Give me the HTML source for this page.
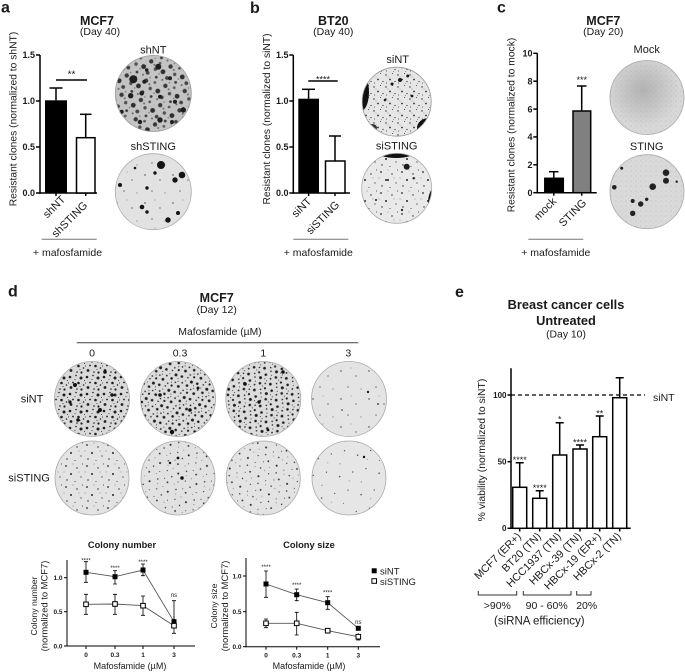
<!DOCTYPE html>
<html><head><meta charset="utf-8"><style>
html,body{margin:0;padding:0;background:#fff;}
svg{display:block;font-family:"Liberation Sans",Arial,sans-serif;}
</style></head><body>
<svg width="685" height="672" viewBox="0 0 685 672" xmlns="http://www.w3.org/2000/svg">
<defs>
<pattern id="pA" width="17" height="17" patternUnits="userSpaceOnUse">
<g fill="#1e1e1e"><circle cx="2" cy="3" r="1.3"/><circle cx="8" cy="1.5" r="0.8"/><circle cx="13" cy="4" r="1.5"/><circle cx="5" cy="8.5" r="0.9"/><circle cx="10.5" cy="9" r="1.3"/><circle cx="15.5" cy="11" r="0.8"/><circle cx="3" cy="13.5" r="1.4"/><circle cx="9" cy="15" r="0.8"/><circle cx="13.5" cy="15.5" r="1.1"/><circle cx="7" cy="5.5" r="0.5"/><circle cx="12" cy="12.5" r="0.5"/><circle cx="16.5" cy="6.5" r="0.5"/><circle cx="0.5" cy="9" r="0.5"/></g>
</pattern>
<pattern id="pB" width="21" height="21" patternUnits="userSpaceOnUse">
<g fill="#262626"><circle cx="3" cy="4" r="0.9"/><circle cx="14" cy="6" r="0.7"/><circle cx="8" cy="12" r="1"/><circle cx="18" cy="15" r="0.6"/><circle cx="4" cy="18" r="0.7"/><circle cx="12" cy="19.5" r="0.5"/><circle cx="19.5" cy="2" r="0.5"/><circle cx="10" cy="2" r="0.4"/><circle cx="16" cy="10" r="0.4"/><circle cx="1" cy="10" r="0.4"/></g>
</pattern>
<pattern id="pC" width="28" height="28" patternUnits="userSpaceOnUse">
<g fill="#333"><circle cx="5" cy="7" r="0.7"/><circle cx="20" cy="12" r="0.6"/><circle cx="12" cy="23" r="0.6"/><circle cx="25" cy="25" r="0.45"/><circle cx="15" cy="4" r="0.4"/></g>
</pattern>
<pattern id="pD" width="20" height="20" patternUnits="userSpaceOnUse">
<circle cx="3" cy="3" r="2.2" fill="#3a3a3a"/><circle cx="12" cy="2.5" r="1.4" fill="#5a5a5a"/><circle cx="17" cy="10" r="2.4" fill="#2e2e2e"/><circle cx="9" cy="9.5" r="1.7" fill="#505050"/><circle cx="2.5" cy="15" r="1.9" fill="#444"/><circle cx="12" cy="17" r="1.4" fill="#3a3a3a"/><circle cx="18.5" cy="18" r="1" fill="#666"/><circle cx="7" cy="5.5" r="1" fill="#6a6a6a"/><circle cx="14" cy="13" r="0.8" fill="#777"/><circle cx="6" cy="19" r="0.8" fill="#777"/>
</pattern>
<pattern id="pE" width="12" height="12" patternUnits="userSpaceOnUse">
<g fill="#2a2a2a"><circle cx="2" cy="3" r="0.7"/><circle cx="8.5" cy="1.5" r="0.5"/><circle cx="6" cy="7.5" r="0.9"/><circle cx="11" cy="9.5" r="0.6"/><circle cx="2.5" cy="11" r="0.5"/><circle cx="9.5" cy="11.8" r="0.4"/><circle cx="4" cy="5" r="0.35"/></g>
</pattern>
<pattern id="pN" width="5" height="5" patternUnits="userSpaceOnUse">
<circle cx="1" cy="1" r="0.5" fill="#adadad"/><circle cx="3.5" cy="3" r="0.4" fill="#bdbdbd"/>
</pattern>
<radialGradient id="gMock" cx="0.45" cy="0.4" r="0.5">
<stop offset="0" stop-color="#a8a8a8" stop-opacity="0.8"/><stop offset="1" stop-color="#a8a8a8" stop-opacity="0"/>
</radialGradient>
<clipPath id="cb1"><circle cx="396.7" cy="101.7" r="34.5"/></clipPath>
<clipPath id="cb2"><circle cx="396.7" cy="188.3" r="35"/></clipPath>
</defs>
<rect width="685" height="672" fill="#fff"/>

<g fill="#1a1a1a">
<!-- ========== Panel a ========== -->
<text x="1" y="12.5" font-size="16" font-weight="bold">a</text>
<text x="97" y="25" font-size="12.5" font-weight="bold" text-anchor="middle">MCF7</text>
<text x="100" y="35" font-size="10.5" text-anchor="middle">(Day 40)</text>
<g stroke="#000" stroke-width="1.5">
<line x1="40" y1="55" x2="40" y2="193.7"/>
<line x1="39.3" y1="193" x2="97" y2="193"/>
<line x1="36" y1="55" x2="40" y2="55"/><line x1="36" y1="101" x2="40" y2="101"/><line x1="36" y1="147" x2="40" y2="147"/><line x1="36" y1="193" x2="40" y2="193"/>
<line x1="56" y1="193" x2="56" y2="196"/><line x1="85.7" y1="193" x2="85.7" y2="196"/>
</g>
<g font-size="9" font-weight="bold" text-anchor="end">
<text x="35" y="58.2">1.5</text><text x="35" y="104.2">1.0</text><text x="35" y="150.2">0.5</text><text x="35" y="196.2">0.0</text>
</g>
<rect x="45" y="100.3" width="22" height="92.7" fill="#000"/>
<g stroke="#000" stroke-width="1.5" fill="none">
<line x1="56" y1="100.3" x2="56" y2="88"/><line x1="49.5" y1="88" x2="62.5" y2="88"/>
<rect x="76.5" y="137.7" width="18.5" height="55.3" fill="#fff"/>
<line x1="85.7" y1="137.7" x2="85.7" y2="114.3"/><line x1="80" y1="114.3" x2="91.5" y2="114.3"/>
<line x1="56" y1="80" x2="87" y2="80"/>
</g>
<text x="71.5" y="77.5" font-size="10" text-anchor="middle">**</text>
<text transform="translate(16.5,119) rotate(-90)" font-size="10.3" text-anchor="middle">Resistant clones (normalized to shNT)</text>
<text transform="translate(66,200) rotate(-45)" font-size="11" text-anchor="end">shNT</text>
<text transform="translate(88,206) rotate(-45)" font-size="11" text-anchor="end">shSTING</text>
<line x1="41.7" y1="239.3" x2="96.7" y2="239.3" stroke="#777" stroke-width="1"/>
<text x="67.5" y="256" font-size="10.5" text-anchor="middle">+ mafosfamide</text>
<text x="153.3" y="53.5" font-size="11" text-anchor="middle">shNT</text>
<text x="153.3" y="150" font-size="11" text-anchor="middle">shSTING</text>
</g>
<!-- plate a shNT -->
<circle cx="153.3" cy="93.5" r="38" fill="#c4c4c4"/>
<circle cx="153.3" cy="93.5" r="38" fill="url(#pN)"/>
<circle cx="153.3" cy="93.5" r="38" fill="url(#pD)" transform="rotate(15 153.3 93.5)"/>
<g fill="#1e1e1e"><circle cx="133.3" cy="79.3" r="4"/><circle cx="158.3" cy="66.7" r="3"/><circle cx="170" cy="78.3" r="2"/><circle cx="144.3" cy="81.7" r="2"/><circle cx="130.7" cy="95.7" r="2.7"/><circle cx="183.3" cy="110" r="2.7"/><circle cx="160" cy="120" r="2.7"/><circle cx="141.7" cy="93.3" r="2.3"/><circle cx="160" cy="96.7" r="2"/><circle cx="121.7" cy="111.7" r="2"/><circle cx="175" cy="101.7" r="2"/><circle cx="146.7" cy="70" r="1.8"/><circle cx="140" cy="122" r="2.2"/><circle cx="172" cy="122" r="2"/></g>
<circle cx="153.3" cy="93.5" r="38" fill="none" stroke="#999" stroke-width="0.8"/>
<!-- plate a shSTING -->
<circle cx="153.3" cy="191.7" r="38" fill="#e2e2e2"/>
<circle cx="153.3" cy="191.7" r="38" fill="url(#pC)"/>
<g fill="#141414"><circle cx="161" cy="165" r="4"/><circle cx="182" cy="175" r="3.3"/><circle cx="175" cy="180" r="2.7"/><circle cx="120" cy="185" r="2"/><circle cx="147" cy="188" r="1.7"/><circle cx="142" cy="207" r="2.3"/><circle cx="147" cy="212" r="1.7"/><circle cx="168" cy="220" r="2.7"/><circle cx="178" cy="213" r="2"/><circle cx="155" cy="173" r="1.7"/><circle cx="135" cy="168" r="1.3"/></g>
<circle cx="153.3" cy="191.7" r="38" fill="none" stroke="#aaa" stroke-width="0.8"/>

<g fill="#1a1a1a">
<!-- ========== Panel b ========== -->
<text x="250" y="13" font-size="16" font-weight="bold">b</text>
<text x="333.3" y="25" font-size="12.5" font-weight="bold" text-anchor="middle">BT20</text>
<text x="333.3" y="35" font-size="10.5" text-anchor="middle">(Day 40)</text>
<g stroke="#000" stroke-width="1.5">
<line x1="293.3" y1="55" x2="293.3" y2="193.7"/>
<line x1="292.6" y1="193" x2="350" y2="193"/>
<line x1="289.3" y1="55" x2="293.3" y2="55"/><line x1="289.3" y1="101" x2="293.3" y2="101"/><line x1="289.3" y1="147" x2="293.3" y2="147"/><line x1="289.3" y1="193" x2="293.3" y2="193"/>
<line x1="308.6" y1="193" x2="308.6" y2="196"/><line x1="335" y1="193" x2="335" y2="196"/>
</g>
<g font-size="9" font-weight="bold" text-anchor="end">
<text x="288.5" y="58.2">1.5</text><text x="288.5" y="104.2">1.0</text><text x="288.5" y="150.2">0.5</text><text x="288.5" y="196.2">0.0</text>
</g>
<rect x="298.3" y="98.7" width="20.7" height="94.3" fill="#000"/>
<g stroke="#000" stroke-width="1.5" fill="none">
<line x1="308.6" y1="98.7" x2="308.6" y2="89.3"/><line x1="302" y1="89.3" x2="315" y2="89.3"/>
<rect x="325.5" y="161" width="19.5" height="32" fill="#fff"/>
<line x1="335" y1="161" x2="335" y2="136"/><line x1="329" y1="136" x2="341" y2="136"/>
<line x1="308.3" y1="81" x2="337.7" y2="81"/>
</g>
<text x="323" y="82.3" font-size="9" text-anchor="middle">****</text>
<text transform="translate(270,119) rotate(-90)" font-size="10.3" text-anchor="middle">Resistant clones (normalized to siNT)</text>
<text transform="translate(312,202) rotate(-45)" font-size="11" text-anchor="end">siNT</text>
<text transform="translate(340,205.5) rotate(-45)" font-size="11" text-anchor="end">siSTING</text>
<line x1="293.3" y1="239.3" x2="348.3" y2="239.3" stroke="#777" stroke-width="1"/>
<text x="318.3" y="256" font-size="10.5" text-anchor="middle">+ mafosfamide</text>
<text x="397.7" y="63" font-size="11" text-anchor="middle">siNT</text>
<text x="396.7" y="149.5" font-size="11" text-anchor="middle">siSTING</text>
</g>
<!-- plate b siNT -->
<g clip-path="url(#cb1)">
<circle cx="396.7" cy="101.7" r="34.5" fill="#e6e6e6"/>
<circle cx="396.7" cy="101.7" r="34.5" fill="url(#pE)"/>
<ellipse cx="361" cy="92" rx="8" ry="19" fill="#111"/>
<ellipse cx="429" cy="128" rx="12" ry="10" fill="#111"/>
<ellipse cx="372" cy="128" rx="5" ry="4" fill="#333"/>
<g fill="#1a1a1a"><circle cx="400" cy="80" r="2"/><circle cx="407.7" cy="76" r="1.5"/><circle cx="392" cy="84" r="1.5"/><circle cx="385" cy="100" r="1.3"/><circle cx="412" cy="96" r="1.4"/></g>
</g>
<circle cx="396.7" cy="101.7" r="34.5" fill="none" stroke="#999" stroke-width="0.8"/>
<!-- plate b siSTING -->
<g clip-path="url(#cb2)">
<circle cx="396.7" cy="188.3" r="35" fill="#e9e9e9"/>
<circle cx="396.7" cy="188.3" r="35" fill="url(#pB)"/>
<ellipse cx="396" cy="151" rx="20" ry="7" fill="#111"/>
<ellipse cx="434" cy="203" rx="6" ry="14" fill="#111"/>
<g fill="#1a1a1a"><circle cx="406.7" cy="166.7" r="3"/><circle cx="413.7" cy="178.3" r="1.2"/><circle cx="388" cy="180" r="1"/><circle cx="376" cy="200" r="1"/><circle cx="402" cy="210" r="1.1"/></g>
</g>
<circle cx="396.7" cy="188.3" r="35" fill="none" stroke="#aaa" stroke-width="0.8"/>

<g fill="#1a1a1a">
<!-- ========== Panel c ========== -->
<text x="497" y="12.5" font-size="16" font-weight="bold">c</text>
<text x="603.3" y="25" font-size="12.5" font-weight="bold" text-anchor="middle">MCF7</text>
<text x="603.3" y="35" font-size="10.5" text-anchor="middle">(Day 20)</text>
<g stroke="#000" stroke-width="1.5">
<line x1="537.3" y1="53.3" x2="537.3" y2="193.4"/>
<line x1="536.6" y1="192.7" x2="596.7" y2="192.7"/>
<line x1="533.3" y1="53.3" x2="537.3" y2="53.3"/><line x1="533.3" y1="81.2" x2="537.3" y2="81.2"/><line x1="533.3" y1="109.1" x2="537.3" y2="109.1"/><line x1="533.3" y1="136.9" x2="537.3" y2="136.9"/><line x1="533.3" y1="164.8" x2="537.3" y2="164.8"/><line x1="533.3" y1="192.7" x2="537.3" y2="192.7"/>
<line x1="553.8" y1="192.7" x2="553.8" y2="195.7"/><line x1="581.7" y1="192.7" x2="581.7" y2="195.7"/>
</g>
<g font-size="9" font-weight="bold" text-anchor="end">
<text x="532.5" y="56.5">10</text><text x="532.5" y="84.4">8</text><text x="532.5" y="112.3">6</text><text x="532.5" y="140.1">4</text><text x="532.5" y="168">2</text><text x="532.5" y="195.9">0</text>
</g>
<g stroke="#000" stroke-width="1.5">
<rect x="544.8" y="178.3" width="18.5" height="14.4" fill="#000"/>
<line x1="553.8" y1="178.3" x2="553.8" y2="171.7"/><line x1="549" y1="171.7" x2="558.5" y2="171.7"/>
<rect x="573" y="111" width="17.7" height="81.7" fill="#808080"/>
<line x1="581.7" y1="111" x2="581.7" y2="86"/><line x1="577" y1="86" x2="586.5" y2="86"/>
</g>
<text x="581.7" y="83" font-size="9" text-anchor="middle">***</text>
<text transform="translate(514.5,125) rotate(-90)" font-size="10.3" text-anchor="middle">Resistant clones (normalized to mock)</text>
<text transform="translate(557,202) rotate(-45)" font-size="11" text-anchor="end">mock</text>
<text transform="translate(587,203.5) rotate(-45)" font-size="11" text-anchor="end">STING</text>
<line x1="528.3" y1="239.3" x2="583.3" y2="239.3" stroke="#777" stroke-width="1"/>
<text x="555.8" y="256" font-size="10.5" text-anchor="middle">+ mafosfamide</text>
<text x="646.7" y="53" font-size="11" text-anchor="middle">Mock</text>
<text x="646.7" y="150" font-size="11" text-anchor="middle">STING</text>
</g>
<!-- plate c Mock -->
<circle cx="647" cy="97.5" r="37" fill="#d8d8d8"/>
<circle cx="647" cy="97.5" r="37" fill="url(#pN)"/>
<circle cx="647" cy="97.5" r="37" fill="url(#gMock)"/>
<circle cx="647" cy="97.5" r="37" fill="none" stroke="#aaa" stroke-width="0.8"/>
<!-- plate c STING -->
<circle cx="647" cy="191.7" r="37" fill="#dadada"/>
<circle cx="647" cy="191.7" r="37" fill="url(#pN)"/>
<g fill="#222"><circle cx="666" cy="172.7" r="3.3"/><circle cx="666" cy="180.7" r="3"/><circle cx="652.7" cy="186.7" r="3.3"/><circle cx="614.3" cy="187.3" r="2.3"/><circle cx="640.7" cy="204" r="2.7"/><circle cx="632.7" cy="213.3" r="2.7"/><circle cx="632.7" cy="201" r="2"/><circle cx="646.7" cy="199.3" r="1.7"/><circle cx="621.7" cy="168.3" r="1.5"/><circle cx="676.7" cy="181.7" r="1.2"/></g>
<circle cx="647" cy="191.7" r="37" fill="none" stroke="#aaa" stroke-width="0.8"/>

<g fill="#1a1a1a">
<!-- ========== Panel d ========== -->
<text x="8" y="296.7" font-size="16" font-weight="bold">d</text>
<text x="216.7" y="302" font-size="12.5" font-weight="bold" text-anchor="middle">MCF7</text>
<text x="216.7" y="313" font-size="10.5" text-anchor="middle">(Day 12)</text>
<text x="220" y="335" font-size="10.3" text-anchor="middle">Mafosfamide (µM)</text>
<line x1="76.7" y1="342.7" x2="358.3" y2="342.7" stroke="#444" stroke-width="1"/>
<g font-size="10.5" text-anchor="middle">
<text x="92" y="356.5">0</text><text x="180" y="356.5">0.3</text><text x="263.3" y="356.5">1</text><text x="348.3" y="356.5">3</text>
</g>
<text x="20.7" y="402.5" font-size="11">siNT</text>
<text x="8.3" y="481.5" font-size="11">siSTING</text>
</g>
<!-- d plates row 1 -->
<g stroke="none">
<circle cx="92" cy="399" r="37.5" fill="#d9d9d9"/><circle cx="92" cy="399" r="37.5" fill="url(#pA)"/>
<g fill="#111"><circle cx="75" cy="385" r="2"/><circle cx="105" cy="372" r="1.8"/><circle cx="100" cy="410" r="2"/><circle cx="78" cy="420" r="1.8"/><circle cx="70" cy="402" r="1.6"/><circle cx="112" cy="395" r="1.7"/></g>
<circle cx="178" cy="399" r="37.5" fill="#dcdcdc"/><circle cx="178" cy="399" r="37.5" fill="url(#pA)" transform="rotate(25 178 399)"/>
<g fill="#111"><circle cx="160" cy="395" r="1.8"/><circle cx="190" cy="410" r="1.8"/><circle cx="172" cy="432" r="2.2"/><circle cx="198" cy="388" r="1.5"/></g>
<circle cx="263.3" cy="399" r="37.5" fill="#dcdcdc"/><circle cx="263.3" cy="399" r="37.5" fill="url(#pA)" transform="rotate(-20 263.3 399)"/>
<g fill="#111"><circle cx="283" cy="372" r="1.8"/><circle cx="245" cy="384" r="1.8"/><circle cx="259" cy="402" r="1.7"/><circle cx="268" cy="430" r="1.4"/></g>
<circle cx="349" cy="399" r="37.5" fill="#e4e4e4"/><circle cx="349" cy="399" r="37.5" fill="url(#pC)"/>
<g fill="#222"><circle cx="368" cy="392" r="1.2"/><circle cx="378" cy="404" r="0.9"/><circle cx="342" cy="410" r="0.8"/></g>
</g>
<!-- d plates row 2 -->
<circle cx="92" cy="478" r="37" fill="#e3e3e3"/><circle cx="92" cy="478" r="37" fill="url(#pB)"/>
<circle cx="178" cy="478" r="37" fill="#e1e1e1"/><circle cx="178" cy="478" r="37" fill="url(#pB)" transform="rotate(30 178 478)"/>
<g fill="#111"><circle cx="182" cy="478" r="1.8"/><circle cx="178" cy="458" r="1.4"/><circle cx="170" cy="463" r="1.2"/></g>
<circle cx="263.3" cy="478" r="37" fill="#e3e3e3"/><circle cx="263.3" cy="478" r="37" fill="url(#pB)" transform="rotate(-30 263.3 478)"/>
<circle cx="349" cy="478" r="37" fill="#e6e6e6"/><circle cx="349" cy="478" r="37" fill="url(#pC)" transform="rotate(40 349 478)"/>
<circle cx="364" cy="457" r="1.2" fill="#111"/>
<g fill="none" stroke="#aaa" stroke-width="0.8">
<circle cx="92" cy="399" r="37.5"/><circle cx="178" cy="399" r="37.5"/><circle cx="263.3" cy="399" r="37.5"/><circle cx="349" cy="399" r="37.5"/>
<circle cx="92" cy="478" r="37"/><circle cx="178" cy="478" r="37"/><circle cx="263.3" cy="478" r="37"/><circle cx="349" cy="478" r="37"/>
</g>

<!-- Colony number graph -->
<g fill="#1a1a1a">
<text x="122" y="548" font-size="9.3" font-weight="bold" text-anchor="middle">Colony number</text>
<g stroke="#000" stroke-width="1">
<line x1="67" y1="560" x2="67" y2="646.5"/><line x1="66.5" y1="646" x2="195" y2="646"/>
<line x1="64" y1="646" x2="67" y2="646"/><line x1="64" y1="611.7" x2="67" y2="611.7"/><line x1="64" y1="577.7" x2="67" y2="577.7"/>
<line x1="86" y1="646" x2="86" y2="649"/><line x1="115" y1="646" x2="115" y2="649"/><line x1="143" y1="646" x2="143" y2="649"/><line x1="174" y1="646" x2="174" y2="649"/>
</g>
<g font-size="6.5" font-weight="bold" text-anchor="end">
<text x="62.5" y="648.3">0.0</text><text x="62.5" y="614">0.5</text><text x="62.5" y="580">1.0</text>
</g>
<g font-size="6.5" font-weight="bold" text-anchor="middle">
<text x="86" y="657">0</text><text x="115" y="657">0.3</text><text x="143" y="657">1</text><text x="174" y="657">3</text>
</g>
<text x="130" y="669" font-size="9" text-anchor="middle">Mafosfamide (µM)</text>
<text transform="translate(37,606) rotate(-90)" font-size="8.7" text-anchor="middle">Colony number</text>
<text transform="translate(47.5,606) rotate(-90)" font-size="9.4" text-anchor="middle">(normalized to MCF7)</text>
<polyline points="86,572.3 115,576.7 143,570 174,621.7" fill="none" stroke="#555" stroke-width="0.9"/>
<polyline points="86,604.3 115,604 143,605.7 174,625.7" fill="none" stroke="#555" stroke-width="0.9"/>
<g stroke="#000" stroke-width="0.8" fill="none">
<path d="M86 561.7V582.3M84 561.7H88M84 582.3H88"/>
<path d="M115 570.7V584M113 570.7H117M113 584H117"/>
<path d="M143 564V575.7M141 564H145M141 575.7H145"/>
<path d="M174 600.7V628M172 600.7H176"/>
<path d="M86 594.3V614.3M84 594.3H88M84 614.3H88"/>
<path d="M115 594.3V614.3M113 594.3H117M113 614.3H117"/>
<path d="M143 596V615.3M141 596H145M141 615.3H145"/>
<path d="M174 616V633.3M172 633.3H176"/>
</g>
<g fill="#000"><rect x="83.5" y="569.8" width="5" height="5"/><rect x="112.5" y="574.2" width="5" height="5"/><rect x="140.5" y="567.5" width="5" height="5"/><rect x="171.5" y="619.2" width="5" height="5"/></g>
<g fill="#fff" stroke="#000" stroke-width="1"><rect x="83.7" y="602" width="4.6" height="4.6"/><rect x="112.7" y="601.7" width="4.6" height="4.6"/><rect x="140.7" y="603.4" width="4.6" height="4.6"/><rect x="171.7" y="623.4" width="4.6" height="4.6"/></g>
<g font-size="6" text-anchor="middle"><text x="86" y="562.3">****</text><text x="115" y="569.8">****</text><text x="143" y="563.8">****</text><text x="174" y="597">ns</text></g>
</g>

<!-- Colony size graph -->
<g fill="#1a1a1a">
<text x="309" y="548" font-size="9.3" font-weight="bold" text-anchor="middle">Colony size</text>
<g stroke="#000" stroke-width="1">
<line x1="246" y1="558" x2="246" y2="647.2"/><line x1="245.5" y1="646.7" x2="380" y2="646.7"/>
<line x1="243" y1="646.7" x2="246" y2="646.7"/><line x1="243" y1="611.7" x2="246" y2="611.7"/><line x1="243" y1="576" x2="246" y2="576"/>
<line x1="266" y1="646.7" x2="266" y2="649.7"/><line x1="296.7" y1="646.7" x2="296.7" y2="649.7"/><line x1="327.7" y1="646.7" x2="327.7" y2="649.7"/><line x1="358.3" y1="646.7" x2="358.3" y2="649.7"/>
</g>
<g font-size="6.5" font-weight="bold" text-anchor="end">
<text x="241.5" y="649">0.0</text><text x="241.5" y="614">0.5</text><text x="241.5" y="578.3">1.0</text>
</g>
<g font-size="6.5" font-weight="bold" text-anchor="middle">
<text x="266" y="657.5">0</text><text x="296.7" y="657.5">0.3</text><text x="327.7" y="657.5">1</text><text x="358.3" y="657.5">3</text>
</g>
<text x="309" y="669" font-size="9" text-anchor="middle">Mafosfamide (µM)</text>
<text transform="translate(217,606) rotate(-90)" font-size="8.7" text-anchor="middle">Colony size</text>
<text transform="translate(228,606) rotate(-90)" font-size="9.4" text-anchor="middle">(normalized to MCF7)</text>
<polyline points="266,584 296.7,594.7 327.7,602.7 358.3,628.3" fill="none" stroke="#555" stroke-width="0.9"/>
<polyline points="266,623.3 296.7,623.3 327.7,630.7 358.3,636.7" fill="none" stroke="#555" stroke-width="0.9"/>
<g stroke="#000" stroke-width="0.8" fill="none">
<path d="M266 571V597.3M264 571H268M264 597.3H268"/>
<path d="M296.7 589V600.7M294.7 589H298.7M294.7 600.7H298.7"/>
<path d="M327.7 596.7V609.3M325.7 596.7H329.7M325.7 609.3H329.7"/>
<path d="M266 619V627.7M264 619H268M264 627.7H268"/>
<path d="M296.7 612.3V635M294.7 612.3H298.7M294.7 635H298.7"/>
<path d="M358.3 633.3V640M356.3 640H360.3"/>
</g>
<g fill="#000"><rect x="263.5" y="581.5" width="5" height="5"/><rect x="294.2" y="592.2" width="5" height="5"/><rect x="325.2" y="600.2" width="5" height="5"/><rect x="355.8" y="625.8" width="5" height="5"/></g>
<g fill="#fff" stroke="#000" stroke-width="1"><rect x="263.7" y="621" width="4.6" height="4.6"/><rect x="294.4" y="621" width="4.6" height="4.6"/><rect x="325.4" y="628.4" width="4.6" height="4.6"/><rect x="356" y="634.4" width="4.6" height="4.6"/></g>
<g font-size="6" text-anchor="middle"><text x="266" y="569">****</text><text x="296.7" y="587">****</text><text x="327.7" y="594.5">****</text><text x="358.3" y="624">ns</text></g>
<rect x="371.7" y="568.3" width="5" height="5" fill="#000"/>
<text x="380" y="574.5" font-size="9.5">siNT</text>
<rect x="371.9" y="578.7" width="4.6" height="4.6" fill="#fff" stroke="#000" stroke-width="1"/>
<text x="380" y="585" font-size="9.5">siSTING</text>
</g>

<!-- ========== Panel e ========== -->
<g fill="#1a1a1a">
<text x="455" y="297" font-size="16" font-weight="bold">e</text>
<text x="566" y="309" font-size="12.8" font-weight="bold" text-anchor="middle">Breast cancer cells</text>
<text x="566" y="325" font-size="12.8" font-weight="bold" text-anchor="middle">Untreated</text>
<text x="566" y="337.5" font-size="10.4" text-anchor="middle">(Day 10)</text>
<g stroke="#000" stroke-width="1.5">
<line x1="511" y1="368.3" x2="511" y2="529"/><line x1="510.3" y1="528.3" x2="630.7" y2="528.3"/>
<line x1="507.5" y1="395" x2="511" y2="395"/><line x1="507.5" y1="461.7" x2="511" y2="461.7"/><line x1="507.5" y1="528.3" x2="511" y2="528.3"/>
<line x1="519.7" y1="528.3" x2="519.7" y2="531.5"/><line x1="539.7" y1="528.3" x2="539.7" y2="531.5"/><line x1="559.7" y1="528.3" x2="559.7" y2="531.5"/><line x1="580" y1="528.3" x2="580" y2="531.5"/><line x1="599.7" y1="528.3" x2="599.7" y2="531.5"/><line x1="619.7" y1="528.3" x2="619.7" y2="531.5"/>
</g>
<g font-size="8" font-weight="bold" text-anchor="end">
<text x="506.5" y="398">100</text><text x="506.5" y="464.6">50</text><text x="506.5" y="531.2">0</text>
</g>
<text transform="translate(485,450) rotate(-90)" font-size="10.4" text-anchor="middle">% viability (normalized to siNT)</text>
<g fill="#fff" stroke="#000" stroke-width="1.5">
<rect x="512.7" y="487.3" width="14" height="41"/>
<rect x="532.7" y="498.3" width="14" height="30"/>
<rect x="552.7" y="455" width="14" height="73.3"/>
<rect x="573" y="449" width="14" height="79.3"/>
<rect x="592.7" y="436.7" width="14" height="91.6"/>
<rect x="612.7" y="397.7" width="14" height="130.6"/>
</g>
<g stroke="#000" stroke-width="1.5" fill="none">
<path d="M519.7 487.3V462.7M515.7 462.7H523.7"/>
<path d="M539.7 498.3V490.7M535.7 490.7H543.7"/>
<path d="M559.7 455V422.7M555.7 422.7H563.7"/>
<path d="M580 449V445M576 445H584"/>
<path d="M599.7 436.7V416M595.7 416H603.7"/>
<path d="M619.7 397.7V377.7M615.7 377.7H623.7"/>
</g>
<line x1="511" y1="395" x2="645" y2="395" stroke="#000" stroke-width="1.2" stroke-dasharray="4,3"/>
<text x="653" y="401" font-size="10.5">siNT</text>
<g font-size="9" text-anchor="middle">
<text x="519.7" y="463">****</text><text x="539.7" y="491">****</text><text x="559.7" y="422.5">*</text><text x="580" y="445.5">****</text><text x="599.7" y="416.5">**</text>
</g>
<g font-size="10.8" text-anchor="end">
<text transform="translate(521.7,537) rotate(-45)">MCF7 (ER+)</text>
<text transform="translate(541.7,537) rotate(-45)">BT20 (TN)</text>
<text transform="translate(561.7,537) rotate(-45)">HCC1937 (TN)</text>
<text transform="translate(582,537) rotate(-45)">HBCx-39 (TN)</text>
<text transform="translate(601.7,537) rotate(-45)">HBCx-19 (ER+)</text>
<text transform="translate(621.7,537) rotate(-45)">HBCx-2 (TN)</text>
</g>
<g stroke="#333" stroke-width="1" fill="none">
<path d="M478.3 591V595H516.7V591"/>
<path d="M523.3 591V595H571V591"/>
<path d="M576.7 591V595H591V591"/>
</g>
<g font-size="10.5" text-anchor="middle">
<text x="497.3" y="609">&gt;90%</text><text x="546.7" y="609">90 - 60%</text><text x="586.7" y="609">20%</text>
</g>
<text x="539.3" y="624.5" font-size="11.5" text-anchor="middle">(siRNA efficiency)</text>
</g>
</svg>
</body></html>
